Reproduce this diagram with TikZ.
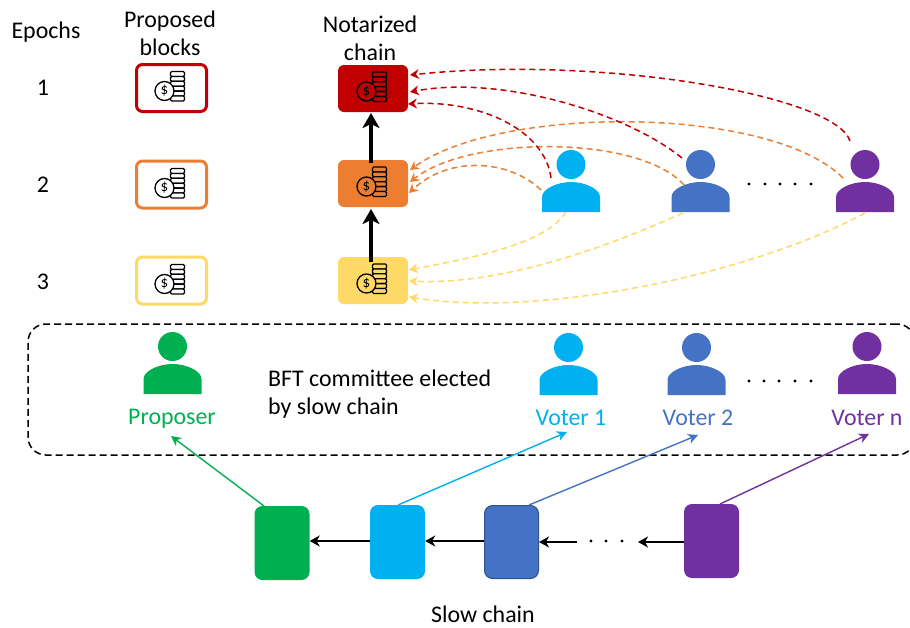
\documentclass[tikz,border=0pt]{standalone}
\usepackage{fontspec}
\setmainfont{Carlito}
\usetikzlibrary{arrows.meta}
\definecolor{cRed}{HTML}{C00000}
\definecolor{cOrange}{HTML}{ED7D31}
\definecolor{cYellow}{HTML}{FFD966}
\definecolor{cCyan}{HTML}{00B0F0}
\definecolor{cBlue}{HTML}{4472C4}
\definecolor{cPurple}{HTML}{7030A0}
\definecolor{cGreen}{HTML}{00B050}
\definecolor{cBlueEdge}{HTML}{2F528F}
\newcommand{\personfig}[4]{%
  \node[personbox] (#1) at (#2,#3-31) {};
  \fill[#4] (#2,#3-47.5) circle[radius=14.5];
  \fill[#4] (#2-29,#3) -- (#2-29,#3-15) .. controls (#2-29,#3-23) and (#2-14,#3-30) .. (#2,#3-30)
     .. controls (#2+14,#3-30) and (#2+29,#3-23) .. (#2+29,#3-15) -- (#2+29,#3) -- cycle;
}
\newcommand{\coinicon}[3]{%
  \foreach \k in {0,...,5} {
    \draw[iconline,fill=#3,rounded corners=1.2] (#1-0.5,#2-16.5+4.9*\k) rectangle (#1+13.5,#2-16.5+4.9*\k+4.9);
  }
  \draw[iconline,fill=#3] (#1-6.5,#2+3) circle[radius=9.5];
  \node[text=black,font=\fontsize{15}{15}\selectfont,inner sep=0pt] at (#1-6.5,#2+3) {\$};
}
\newcommand{\dotrow}[2]{%
  \foreach \dx in {#1} { \fill[black] (\dx,#2) circle[radius=1.6]; }
}
\tikzset{
  x=1pt,y=-1pt,
  every node/.style={font=\fontsize{23.9}{28}\selectfont,inner sep=0pt},
  personbox/.style={minimum width=58pt,minimum height=62pt},
  iconline/.style={draw=black,line width=1.3pt},
  propblock/.style={draw=#1,line width=3pt,fill=white,rounded corners=6pt,minimum width=70pt,minimum height=47pt},
  notblock/.style={fill=#1,rounded corners=6pt,minimum width=70pt,minimum height=47pt},
  chainblock/.style={fill=#1,rounded corners=8pt,minimum width=55pt,minimum height=74pt},
  vote/.style={draw=#1,line width=1.5pt,dash pattern=on 6pt off 4pt,
    -{Stealth[inset=3pt,length=9pt,width=10pt,color=#1,line width=0pt]}},
  link/.style={draw=#1,line width=1.4pt,-{Stealth[inset=3pt,length=10pt,width=10pt]}},
  chainarrow/.style={draw=black,line width=1.5pt,-{Stealth[inset=3pt,length=10pt,width=11pt]}},
  thick arrow/.style={draw=black,line width=3.5pt,-{Stealth[inset=4pt,length=15pt,width=17pt]}},
  lab/.style={align=center}
}
\begin{document}
\begin{tikzpicture}
\useasboundingbox (0,0) rectangle (910,627);
\clip (0,0) rectangle (910,627);
% labels
\node[lab] (epochs) at (46,32) {Epochs};
\node[lab] (e1) at (43,88) {1};
\node[lab] (e2) at (43,185) {2};
\node[lab] (e3) at (43,282) {3};
\node[lab] (prophead) at (170,33) {Proposed\\blocks};
\node[lab] (nothead) at (370,38) {Notarized\\chain};
% proposed blocks
\node[propblock=cRed] (p1) at (171.5,88) {};
\node[propblock=cOrange] (p2) at (171.5,184.5) {};
\node[propblock=cYellow] (p3) at (171.5,280.5) {};
\coinicon{171}{88}{white}
\coinicon{171}{185}{white}
\coinicon{171}{281}{white}
% notarized
\node[notblock=cRed] (n1) at (373,88.5) {};
\node[notblock=cOrange] (n2) at (373,183.5) {};
\node[notblock=cYellow] (n3) at (373,280.5) {};
\coinicon{373}{88.5}{cRed}
\coinicon{373}{183.5}{cOrange}
\coinicon{373}{280.5}{cYellow}
\coordinate (n2up) at (371,163);
\coordinate (n1down) at (371,113);
\coordinate (n3up) at (371,262);
\coordinate (n2down) at (371,209);
\draw[thick arrow] (n2up) -- (n1down);
\draw[thick arrow] (n3up) -- (n2down);
% upper persons
\personfig{uv1}{571}{212}{cCyan}
\personfig{uv2}{700.5}{212}{cBlue}
\personfig{uvn}{865}{212}{cPurple}
\dotrow{749,765,780,795,811}{184}
% vote end points
\coordinate (r1s) at (551,178); \coordinate (r1e) at (408,104);
\coordinate (r2s) at (682,158); \coordinate (r2e) at (410,92);
\coordinate (r3s) at (850,141); \coordinate (r3e) at (410,75);
\coordinate (o1s) at (541,190); \coordinate (o1e) at (409,193);
\coordinate (o2s) at (684,185); \coordinate (o2e) at (410,182);
\coordinate (o3s) at (843,178); \coordinate (o3e) at (410,170);
\coordinate (y1s) at (566,212); \coordinate (y1e) at (409,270);
\coordinate (y2s) at (683,213); \coordinate (y2e) at (409,281);
\coordinate (y3s) at (865,213); \coordinate (y3e) at (409,297);
% orange
\draw[vote=cOrange] (o3s) .. controls (770,105) and (500,105) .. (o3e);
\draw[vote=cOrange] (o2s) .. controls (640,135) and (470,135) .. (o2e);
\draw[vote=cOrange] (o1s) .. controls (510,160) and (450,155) .. (o1e);
% red
\draw[vote=cRed] (r3s) .. controls (835,95) and (600,55) .. (r3e);
\draw[vote=cRed] (r2s) .. controls (625,112) and (500,75) .. (r2e);
\draw[vote=cRed] (r1s) .. controls (545,130) and (480,100) .. (r1e);
% yellow
\draw[vote=cYellow] (y3s) .. controls (750,275) and (540,318) .. (y3e);
\draw[vote=cYellow] (y2s) .. controls (600,250) and (500,285) .. (y2e);
\draw[vote=cYellow] (y1s) .. controls (545,245) and (470,258) .. (y1e);
% committee
\node[draw=black,line width=1.5pt,dash pattern=on 7pt off 4pt,rounded corners=18pt,minimum width=887pt,minimum height=131pt] (committee) at (471.5,389.5) {};
\personfig{prop}{172.5}{394}{cGreen}
\personfig{lv1}{568.5}{395}{cCyan}
\personfig{lv2}{696.5}{395}{cBlue}
\personfig{lvn}{867}{394}{cPurple}
\dotrow{749,764,779,795,811}{381}
\node[text=cGreen] (tprop) at (172,418.5) {Proposer};
\node[text=cCyan] (tv1) at (571,417.5) {Voter 1};
\node[text=cBlue] (tv2) at (698,417.5) {Voter 2};
\node[text=cPurple] (tvn) at (867,417.5) {Voter n};
\node[align=left,anchor=west] (bft) at (268,394.5) {BFT committee elected\\by slow chain};
% slow chain
\node[chainblock=cGreen] (s1) at (282,543) {};
\node[chainblock=cCyan] (s2) at (397.5,542) {};
\node[chainblock=cBlue,draw=cBlueEdge,line width=1pt,minimum width=54pt,minimum height=73pt] (s3) at (511.5,542) {};
\node[chainblock=cPurple] (s4) at (711.5,541) {};
\node (slowlabel) at (483,614) {Slow chain};
\coordinate (gap1) at (577,542);
\coordinate (gap2) at (638,542);
\dotrow{591,606,622}{541}
\draw[chainarrow] (s2.west |- 0,541) -- (s1.east |- 0,541);
\draw[chainarrow] (s3.west |- 0,541) -- (s2.east |- 0,541);
\draw[chainarrow] (gap1) -- (s3.east |- 0,542);
\draw[chainarrow] (s4.west |- 0,542) -- (gap2);
% election arrows
\coordinate (g0) at (264,506); \coordinate (g1) at (171,436);
\coordinate (c0) at (398,505); \coordinate (c1) at (567,432);
\coordinate (b0) at (529,505); \coordinate (b1) at (698,435);
\coordinate (v0) at (720,504); \coordinate (v1) at (869,434);
\draw[link=cGreen] (g0) -- (g1);
\draw[link=cCyan] (c0) -- (c1);
\draw[link=cBlue] (b0) -- (b1);
\draw[link=cPurple] (v0) -- (v1);
\end{tikzpicture}
\end{document}
